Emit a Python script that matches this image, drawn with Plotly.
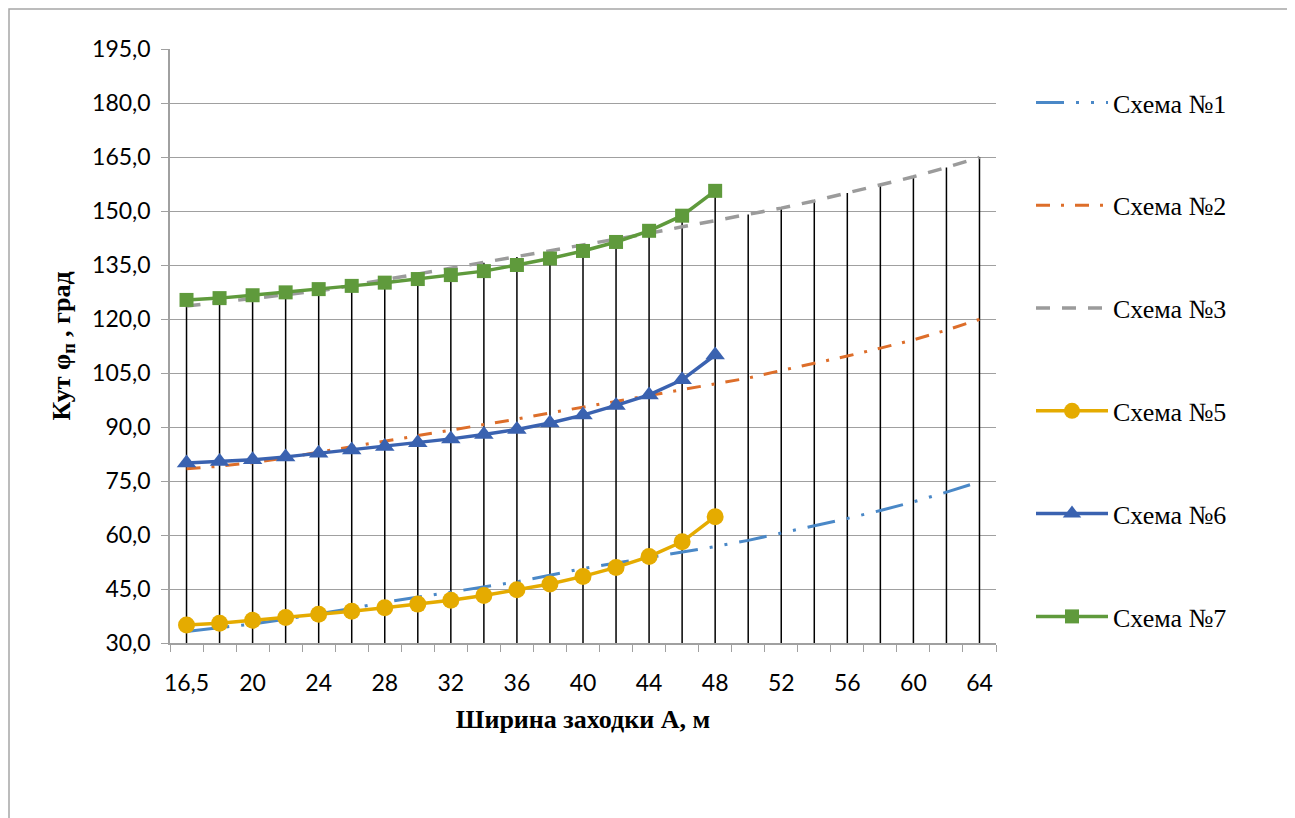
import plotly.graph_objects as go

# ---- data ----
categories = [16.5, 18, 20, 22, 24, 26, 28, 30, 32, 34, 36, 38, 40, 42, 44, 46, 48,
              50, 52, 54, 56, 58, 60, 62, 64]
tick_labels = ["16,5", "20", "24", "28", "32", "36", "40", "44", "48", "52", "56", "60", "64"]

scheme1 = [33.2, 34.2, 35.3, 36.6, 38.0, 39.6, 41.3, 42.7, 44.0, 45.5, 47.0, 48.8, 50.7,
           52.2, 53.7, 55.2, 56.8, 58.5, 60.5, 62.5, 64.6, 66.8, 69.2, 71.9, 74.8]
scheme2 = [78.4, 79.1, 80.1, 81.4, 83.0, 84.5, 86.0, 87.6, 89.1, 90.6, 92.2, 93.9, 95.5,
           97.0, 98.6, 100.2, 101.8, 103.6, 105.7, 107.6, 109.7, 111.9, 114.2, 116.9, 119.9]
scheme3 = [123.6, 124.6, 125.6, 126.7, 127.8, 129.3, 130.9, 132.4, 134.0, 135.6, 137.2,
           138.9, 140.6, 142.2, 143.8, 145.6, 147.3, 149.0, 150.8, 152.8, 155.0, 157.2,
           159.5, 162.1, 164.9]
scheme5 = [35.0, 35.5, 36.3, 37.1, 38.0, 38.8, 39.8, 40.8, 41.9, 43.2, 44.8, 46.4, 48.5,
           51.0, 54.0, 58.1, 65.1]
scheme6 = [80.0, 80.4, 80.9, 81.7, 82.7, 83.6, 84.6, 85.6, 86.7, 87.9, 89.3, 91.1, 93.3,
           96.0, 98.9, 103.1, 110.0]
scheme7 = [125.3, 125.8, 126.6, 127.4, 128.3, 129.2, 130.1, 131.1, 132.2, 133.3, 135.0,
           136.8, 138.9, 141.4, 144.5, 148.7, 155.6]

names = ["Схема №1", "Схема №2", "Схема №3", "Схема №5", "Схема №6", "Схема №7"]

# ---- geometry ----
W, H = 1287, 810
L, R, T, B = 162, 299, 41, 175
pw, ph = W - L - R, H - T - B
idx = list(range(len(categories)))

fig = go.Figure()

# drop lines (from axis minimum to highest series value at each category)
all_series = [scheme1, scheme2, scheme3, scheme5, scheme6, scheme7]
dx, dy = [], []
for i in idx:
    vals = [s[i] for s in all_series if i < len(s)]
    dx += [i, i, None]
    dy += [30, max(vals), None]
fig.add_trace(go.Scatter(x=dx, y=dy, mode="lines", line=dict(color="black", width=1.5),
                         showlegend=False, hoverinfo="skip"))

def line_trace(vals, name, color, dash, width=3):
    return go.Scatter(x=idx[:len(vals)], y=vals, name=name, mode="lines",
                      line=dict(color=color, width=width, dash=dash),
                      legendgroup=name)

fig.add_trace(line_trace(scheme1, names[0], "#4a88c7", "28px,12px,3px,12px,3px,12px"))
fig.add_trace(line_trace(scheme2, names[1], "#dd6e2a", "14px,11px,3px,11px"))
fig.add_trace(line_trace(scheme3, names[2], "#9b9b9b", "14px,12px", width=3.5))

def marker_trace(vals, name, color, symbol, size):
    return go.Scatter(x=idx[:len(vals)], y=vals, name=name, mode="lines+markers",
                      line=dict(color=color, width=3.5),
                      marker=dict(symbol=symbol, size=size, color=color),
                      legendgroup=name)

fig.add_trace(marker_trace(scheme5, names[3], "#e5ab00", "circle", 17))
fig.add_trace(marker_trace(scheme6, names[4], "#3a62b0", "triangle-up", 17))
fig.add_trace(marker_trace(scheme7, names[5], "#5f9a3c", "square", 14))

# outer chart border
fig.add_shape(type="rect", xref="paper", yref="paper",
              x0=(1 - L) / pw, x1=(1281 - L) / pw,
              y0=(H - B - (H + 20)) / ph, y1=(H - B - 1) / ph,
              line=dict(color="#a6a6a6", width=1.5), fillcolor="rgba(0,0,0,0)", layer="below")

fig.update_layout(
    width=W, height=H,
    margin=dict(l=L, r=R, t=T, b=B),
    paper_bgcolor="white", plot_bgcolor="white",
    separators=", ",
    showlegend=True,
    legend=dict(x=(1023 - L) / pw, y=(H - B - 71) / ph, xanchor="left", yanchor="top",
                font=dict(family="Liberation Serif", size=26, color="black"),
                tracegroupgap=66, itemwidth=72, bgcolor="rgba(0,0,0,0)"),
    xaxis=dict(range=[-0.5, len(categories) - 0.5],
               tickmode="array", tickvals=idx[::2], ticktext=tick_labels,
               ticks="outside", ticklen=19, tickcolor="rgba(0,0,0,0)", showgrid=False,
               showline=True, linecolor="#a0a0a0", linewidth=1.5,
               tickfont=dict(family="Lato", size=23, color="black"),
               minor=dict(tickmode="array", tickvals=[i - 0.5 for i in idx] + [len(idx) - 0.5],
                          ticks="outside", ticklen=7, tickcolor="#a0a0a0", tickwidth=1, showgrid=False),
               title=dict(text="<b>Ширина заходки А, м</b>", standoff=14,
                          font=dict(family="Liberation Serif", size=26, color="black")),
               zeroline=False),
    yaxis=dict(range=[30, 195], dtick=15, tick0=30, tickformat=".1f",
               showgrid=True, gridcolor="#a0a0a0", gridwidth=1,
               showline=True, linecolor="#a0a0a0", linewidth=1.5,
               ticks="outside", ticklen=7, tickcolor="#a0a0a0",
               ticklabelstandoff=6,
               tickfont=dict(family="Lato", size=23, color="black"),
               title=dict(text="<b>Кут φ<sub>п</sub> , град</b>", standoff=14,
                          font=dict(family="Liberation Serif", size=26, color="black")),
               zeroline=False),
)

fig.write_html("out.html")
